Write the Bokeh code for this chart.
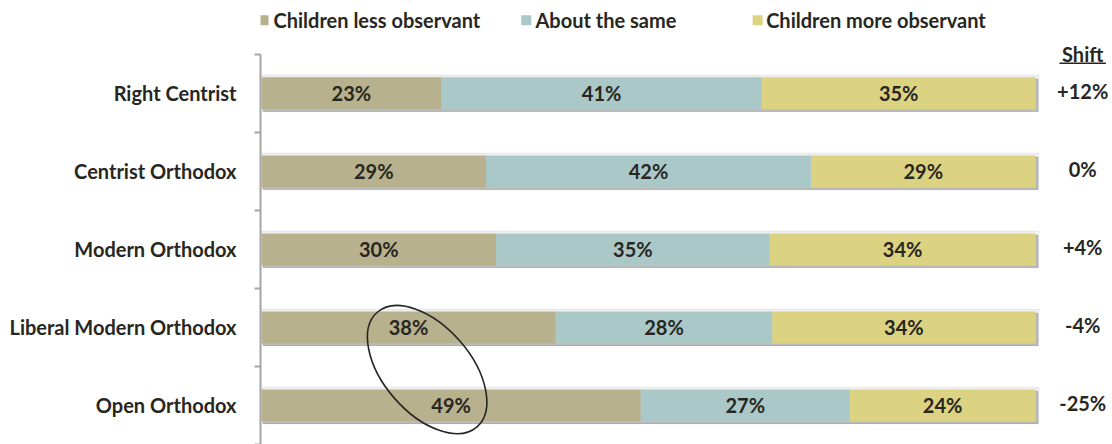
from bokeh.plotting import figure
from bokeh.models import Range1d, FixedTicker
from bokeh.core.properties import value
from bokeh.embed import file_html
from bokeh.resources import INLINE

# ---- data ----
categories = ["Right Centrist", "Centrist Orthodox", "Modern Orthodox",
              "Liberal Modern Orthodox", "Open Orthodox"]
less_observant = [23, 29, 30, 38, 49]
about_same = [41, 42, 35, 28, 27]
more_observant = [35, 29, 34, 34, 24]
shift_labels = ["+12%", "0%", "+4%", "-4%", "-25%"]
series_names = ["Children less observant", "About the same", "Children more observant"]

# ---- style ----
colors = ["#B8B18E", "#ABC8C8", "#DBD282"]
text_color = "#28271F"
axis_color = "#A6A6A6"
FONT = "Lato"
FS = "20px"
bar_h = 0.41

n = len(categories)
ypos = [n - 1 - i for i in range(n)]
series = [less_observant, about_same, more_observant]
totals = [sum(v) for v in zip(*series)]

# 100% stacked extents
lefts, rights = [], []
acc = [0.0] * n
for s in series:
    l = list(acc)
    acc = [a + 100.0 * v / t for a, v, t in zip(acc, s, totals)]
    lefts.append(l)
    rights.append(list(acc))

p = figure(width=1112, height=444,
           x_range=Range1d(-0.13, 109.95), y_range=Range1d(-0.5, 5.19),
           output_backend="svg", toolbar_location=None,
           x_axis_location=None,
           min_border_left=260, min_border_right=0,
           min_border_top=0, min_border_bottom=0)
p.outline_line_color = None
p.grid.visible = False
p.background_fill_color = "white"

# shadows
p.hbar(y=ypos, left=[-0.25] * n, right=[100.45] * n, height=bar_h + 0.06,
       color="#000000", alpha=0.06)
p.hbar(y=[y - 0.025 for y in ypos], left=[0.25] * n, right=[100.3] * n,
       height=bar_h, color="#000000", alpha=0.2)

# bars
for i, s in enumerate(series):
    p.hbar(y=ypos, left=lefts[i], right=rights[i], height=bar_h,
           color=colors[i], line_color=None)
    centers = [(a + b) / 2 for a, b in zip(lefts[i], rights[i])]
    p.text(x=centers, y=ypos, text=[f"{v}%" for v in s],
           text_align="center", text_baseline="middle",
           text_font=value(FONT), text_font_style="bold",
           text_font_size=FS, text_color=text_color)

# shift column
shift_x = 106.1
p.text(x=[shift_x] * n, y=[y + 0.03 for y in ypos], text=shift_labels,
       text_align="center", text_baseline="middle",
       text_font=value(FONT), text_font_style="bold",
       text_font_size=FS, text_color=text_color)
p.text(x=[shift_x], y=[4.51], text=["Shift"],
       text_align="center", text_baseline="middle",
       text_font=value(FONT), text_font_style="bold",
       text_font_size=FS, text_color=text_color)
p.segment(x0=[shift_x - 3.0], x1=[shift_x + 3.0], y0=[4.385], y1=[4.385],
          line_color=text_color, line_width=1.5)

# legend (manual, above bars)
leg_y = 4.936
leg_sq_x = [0.26, 34.2, 64.1]
leg_tx_x = [1.55, 35.4, 65.2]
p.scatter(x=leg_sq_x, y=[leg_y] * 3, marker="square", size=10,
          color=colors, line_color=None)
p.text(x=leg_tx_x, y=[leg_y] * 3, text=series_names,
       text_align="left", text_baseline="middle",
       text_font=value(FONT), text_font_style="bold",
       text_font_size=FS, text_color=text_color)

# highlight ellipse
p.ellipse(x=[21.4], y=[0.46], width=[152], height=[87], angle=[-0.855],
          width_units="screen", height_units="screen",
          fill_color=None, line_color="#262626", line_width=1.6)

# y axis
ax = p.yaxis[0]
ax.ticker = FixedTicker(ticks=ypos, minor_ticks=[k - 0.5 for k in range(n + 1)])
ax.bounds = (-0.5, n - 0.5)
ax.major_label_overrides = {y: c for y, c in zip(ypos, categories)}
ax.major_tick_in = 0
ax.major_tick_out = 0
ax.minor_tick_in = 0
ax.minor_tick_out = 6
ax.minor_tick_line_color = axis_color
ax.minor_tick_line_width = 2
ax.axis_line_color = axis_color
ax.axis_line_width = 2
ax.major_label_standoff = 18
ax.major_label_text_font = FONT
ax.major_label_text_font_style = "bold"
ax.major_label_text_font_size = FS
ax.major_label_text_color = text_color

open("out.html", "w").write(file_html(p, INLINE))
